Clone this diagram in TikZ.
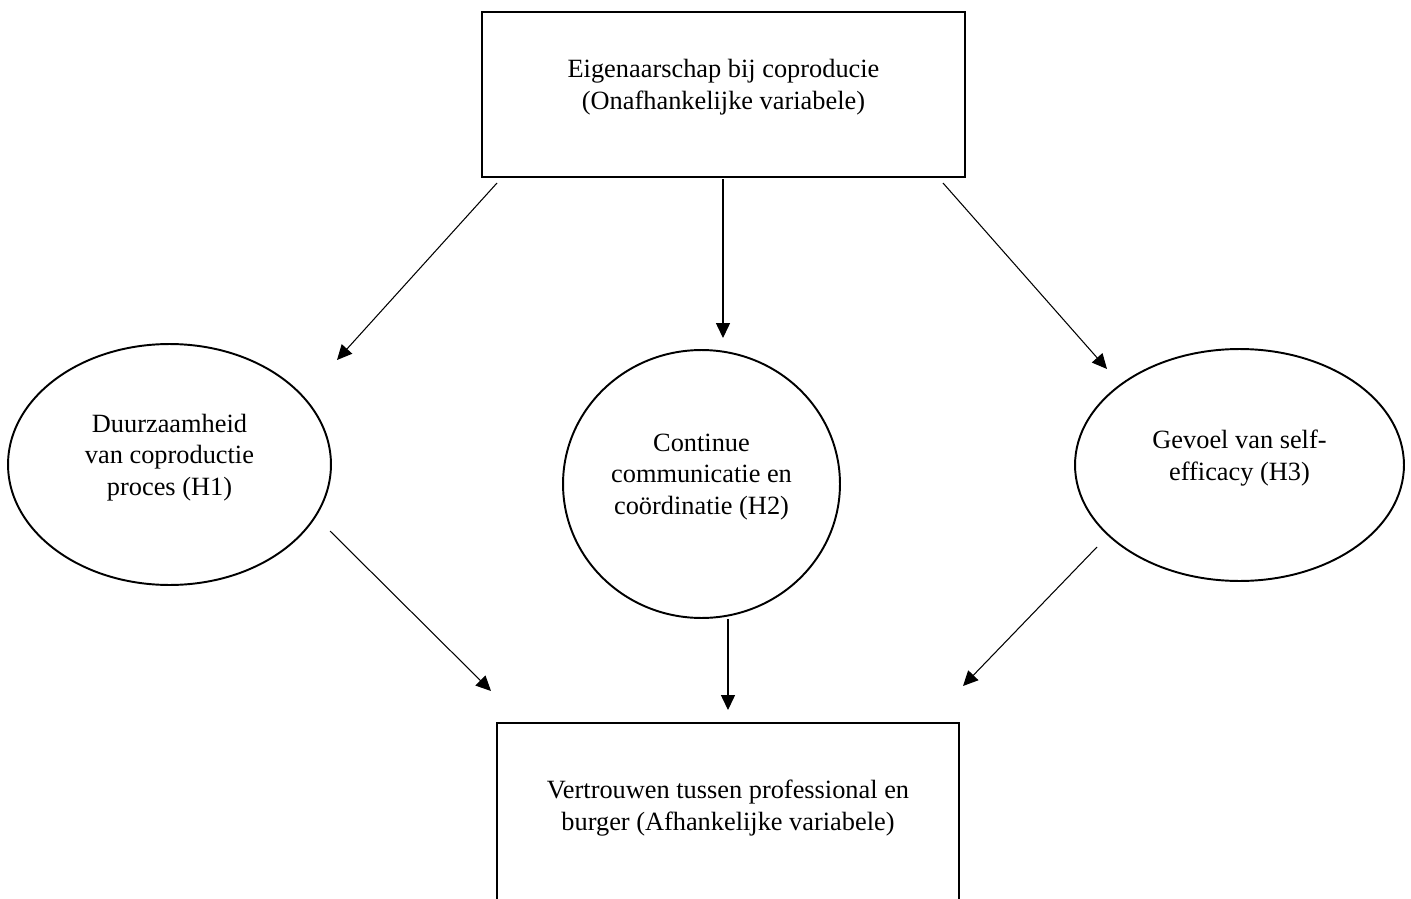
\documentclass[tikz,border=0pt]{standalone}
\usepackage{fontspec}
\setmainfont{Liberation Serif}
\usetikzlibrary{arrows.meta, positioning, shapes.geometric}
\newcommand{\gap}{\\[-7pt]\mbox{}}

\begin{document}
\begin{tikzpicture}[
                        x=0.02cm,
                        y=-0.02cm,
                        >={Triangle[length=8.5pt,width=8pt]},
                        font=\fontsize{15}{18.1}\selectfont
                    ]
                    \tikzset{
                        varbox/.style = {draw, line width=1.3pt, rectangle, align=center, inner sep=0pt},
                        mediator/.style = {draw, line width=1.1pt, ellipse, align=center, inner sep=0pt},
                        effect/.style = {->, line width=0.6pt}
                    }
                    \useasboundingbox (0,0) rectangle (1411,899);

                    % Independent and dependent variable
                    \node[varbox, minimum width=9.66cm, minimum height=3.3cm] (indep) at (723.5,94.5)
                        {Eigenaarschap bij coproducie\\(Onafhankelijke variabele)\gap};
                    \node[varbox, minimum width=9.24cm, minimum height=3.68cm] (dep) at (728,815)
                        {Vertrouwen tussen professional en\\burger (Afhankelijke variabele)\gap};

                    % Mediators
                    \node[mediator, minimum width=6.46cm, minimum height=4.82cm] (H1) at (169.5,464.5)
                        {Duurzaamheid\\van coproductie\\proces (H1)\gap};
                    \node[mediator, minimum width=5.54cm, minimum height=5.36cm] (H2) at (701.5,484)
                        {Continue\\communicatie en\\coördinatie (H2)\gap};
                    \node[mediator, minimum width=6.58cm, minimum height=4.64cm] (H3) at (1239.5,465)
                        {Gevoel van self-\\efficacy (H3)\gap};

                    % Free arrow ends
                    \coordinate (in1) at (497,183);
                    \coordinate (in2) at (723,179);
                    \coordinate (in3) at (943,183);
                    \coordinate (to1) at (337,360);
                    \coordinate (to2) at (723,338);
                    \coordinate (to3) at (1107,369);
                    \coordinate (out1) at (330,531);
                    \coordinate (out2) at (728,619);
                    \coordinate (out3) at (1097,547);
                    \coordinate (at1) at (491,691);
                    \coordinate (at2) at (728,710);
                    \coordinate (at3) at (963,686);

                    % Effects
                    \draw[effect] (in1) -- (to1);
                    \draw[effect] (in2) -- (to2);
                    \draw[effect] (in3) -- (to3);
                    \draw[effect] (out1) -- (at1);
                    \draw[effect] (out2) -- (at2);
                    \draw[effect] (out3) -- (at3);

                \end{tikzpicture}
\end{document}
